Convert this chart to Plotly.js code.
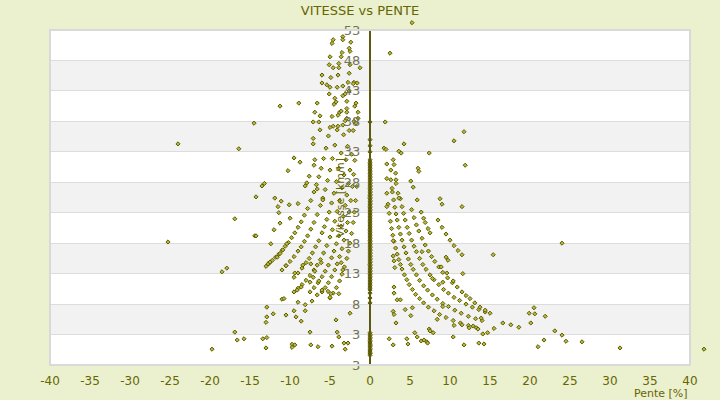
<!DOCTYPE html>
<html>
<head>
<meta charset="utf-8">
<script src="https://cdn.plot.ly/plotly-3.0.1.min.js"></script>
<style>html,body{margin:0;padding:0;background:#ebf0cf;}#chart{width:720px;height:400px;}</style>
</head>
<body>
<div id="chart"></div>
<script>
// ---- Data: slope [%] and speed [km/h] ----
// downhill bands
const downA_x = [-13,-12.6,-12.2,-11.8,-11.4,-11,-10.6,-10.2,-9.8,-9.4,-9,-8.6,-8.2,-7.8,-7.4,-7,-6.7,-6.4,-6.1,-5.8,-5.5,-5.2,-5];
const downA_y = [14.2,14.7,15.2,15.7,16.2,16.8,17.5,18.1,18.9,19.7,20.6,21.5,22.6,23.7,25,26.4,27.6,28.9,30.3,31.9,33.6,35.6,37];
const downB_x = [-11,-10.5,-10,-9.5,-9,-8.6,-8.2,-7.8,-7.4,-7,-6.6,-6.2,-5.9,-5.6,-5.3,-5,-4.7,-4.4,-4.1,-3.8];
const downB_y = [13.6,14.3,15,15.8,16.7,17.4,18.3,19.2,20.3,21.4,22.7,24.2,25.4,26.8,28.3,30,31.9,34.1,36.6,39.5];
const downC_x = [-9.5,-9,-8.5,-8,-7.6,-7.2,-6.8,-6.4,-6,-5.7,-5.4,-5.1,-4.8,-4.5,-4.2,-3.9,-3.6,-3.3,-3.1];
const downC_y = [12.4,13.1,13.9,14.8,15.5,16.4,17.4,18.4,19.7,20.7,21.9,23.1,24.6,26.2,28.1,30.3,32.8,35.8,38.1];
const downD_x = [-9.5,-9,-8.5,-8,-7.5,-7,-6.6,-6.2,-5.8,-5.4,-5,-4.7,-4.4,-4.1,-3.8,-3.5,-3.25,-3,-2.8,-2.6];
const downD_y = [10,10.6,11.2,11.9,12.7,13.6,14.4,15.3,16.4,17.6,19,20.2,21.6,23.2,25,27.1,29.2,31.7,33.9,36.5];
const downE_x = [-7.5,-7,-6.5,-6,-5.6,-5.2,-4.8,-4.5,-4.2,-3.9,-3.6,-3.35,-3.1,-2.9,-2.7,-2.5,-2.3];
const downE_y = [10,10.7,11.5,12.5,13.4,14.4,15.6,16.7,17.9,19.2,20.8,22.4,24.2,25.9,27.8,30,32.6];
const downF_x = [-6,-5.6,-5.2,-4.8,-4.4,-4.1,-3.8,-3.5,-3.25,-3,-2.8,-2.6,-2.4,-2.2,-2.05,-1.9];
const downF_y = [10,10.7,11.5,12.5,13.6,14.6,15.8,17.1,18.5,20,21.4,23.1,25,27.3,29.3,31.6];
const downG_x = [-5,-4.6,-4.2,-3.8,-3.5,-3.2,-2.9,-2.7,-2.5,-2.3,-2.1,-1.95,-1.8,-1.65];
const downG_y = [9,9.8,10.7,11.8,12.9,14.1,15.5,16.7,18,19.6,21.4,23.1,25,27.3];
// uphill bands
const upA_x = [2.1,2.25,2.4,2.55,2.7,2.85,3,3.2,3.4,3.6,3.8,4,4.3,4.6,4.9,5.3,5.7,6.2,6.7,7.3,8,8.7,9.5,10.4,11.3,12.3,13.3];
const upA_y = [26.2,24.4,22.9,21.6,20.4,19.3,18.3,17.2,16.2,15.3,14.5,13.75,12.8,12,11.2,10.4,9.6,8.9,8.2,7.5,6.9,6.3,5.8,5.3,4.9,4.5,4.1];
const upB_x = [2.8,2.95,3.1,3.25,3.4,3.6,3.8,4,4.25,4.5,4.8,5.1,5.4,5.8,6.2,6.7,7.2,7.8,8.4,9.1,9.8,10.6,11.4,12.3,13.2,14];
const upB_y = [26.4,25.1,23.9,22.8,21.8,20.6,19.5,18.5,17.4,16.4,15.4,14.5,13.7,12.8,11.9,11,10.3,9.5,8.8,8.1,7.6,7,6.5,6,5.6,5.3];
const upC_x = [3.8,4,4.2,4.4,4.65,4.9,5.2,5.5,5.8,6.2,6.6,7,7.5,8,8.6,9.2,9.8,10.5,11.2,12,12.8,13.6,14.4];
const upC_y = [25.3,24,22.9,21.8,20.6,19.6,18.5,17.5,16.6,15.5,14.5,13.7,12.8,12,11.2,10.4,9.8,9.1,8.6,8,7.5,7.1,6.7];
const upD_x = [5.2,5.5,5.8,6.1,6.5,6.9,7.3,7.7,8.1,8.6,9.1,9.7,10.3,10.9,11.5,12,12.5,13.1,13.75,14.4,15];
const upD_y = [23.5,22.2,21,20,18.8,17.7,16.7,15.8,15,14.1,13.2,12.3,11.5,10.8,10,9.4,8.9,8.2,7.5,7,6.5];
const upE_x = [5.9,6.4,6.7,6.9,7.25,7.5,8.5,9,9.5,10,10.5,11,11.5];
const upE_y = [25.1,23.1,22.1,21.4,20.4,19.7,21.8,20.6,19.5,18.5,17.6,16.8,16.1];
// flat (0 %) readings
const flatSpeed = [-0.4,-0.1,0,0.3,0.5,0.7,1,1.2,1.4,1.6,1.8,2,2.3,2.5,2.8,3,3.3,8.2,9,9.8,10.3,10.5,10.8,11,11.3,11.5,11.8,12,12.3,12.5,12.8,13,13.3,13.5,13.8,14,14.3,14.5,14.8,15,15.3,15.5,15.8,16,16.3,16.5,16.8,17,17.3,17.5,17.8,18,18.3,18.5,18.8,19,19.3,19.5,19.8,20,20.3,20.5,20.8,21,21.3,21.5,21.8,22,22.3,22.5,22.8,23,23.3,23.5,23.8,24,24.3,24.5,24.8,25,25.3,25.5,25.8,26,26.3,26.5,26.8,27,27.3,27.5,27.8,28,28.3,28.5,28.8,29,29.3,29.5,29.8,30,30.3,30.5,30.8,31,31.3,31.7,33,34,35,37.9];
// isolated downhill points
const looseDown_x = [-19.75,-16.6,-15.75,-16.9,-13.4,-12.9,-13,-9.75,-9.4,-9.75,-7.4,-6.5,-4.75,-7.5,-4.1,-3.9,-3.25,-2.75,-3.1,
 -25.25,-14.4,-18.5,-17.9,-12.4,-10.4,-10.9,-12.75,-12.5,-10.5,-9.4,-8.4,-7.4,-6.9,-6.1,-6.6,-7.25,-9,-11,-10.75,-12.9,-12.1,-12.9,-13,-10.5,-9.5,-9.25,-8.6,-8.1,-8.1,-4.25,-2.5,-3.9,-3.4,-3.6,-5.25,-4.9,-5,-6,-6.4,-7.5,-7.1,-9.1,-8.6,-11.6,-11.25,
 -24,-16.4,-14.5,-11.25,-8.9,-6.6,-4.5,-16.9,-14.25,-14.25,-13.5,-13.2,-10.25,-9.5,-8.75,-6.9,-7.6,-7,-11.9,-11.1,-11.5,-11.4,-10.1,-9,-10,-12,-11.25,-8.1,-7.9,-6.6,-5.9,-7.1,-7.1,-6.25,-7.1,-6.4,-6.25,-4.75,-4.6,-3.4,
 -6,-5.4,-5,-4.1,-3.4,-2.75,-2,-1.6,-5.1,-6,-4.9,-4,-2.6,-5.1,-4.6,-3.9,-3.9,-2.5,-1.25,-5,-3.6,-3.5,-2.5,-4.6,-4.75,-3.4,-3.4,-2.4,-2.6,-4.4,-4.25,-3.4,-2.9,-1.5,-2.6,-2.1,-1.9,-1.75,-3.1,-2.9,-2.9,-3.6,-6.9,-4,-2.9,-2,-1.5,-1.75,-4,-2.1];
const looseDown_y = [0.6,2.1,2.3,3.4,2.3,2.5,0.8,1.4,1.3,0.9,1.3,1,1.1,3.4,3.4,2.6,1.6,1.6,0.6,
 18.2,19.2,13.3,13.9,17.9,17.9,16.9,14.6,14.9,14.3,13.1,14.4,14.6,13.4,14.8,9.5,8.5,8.3,8.8,8.9,7.5,6.4,5.9,5,6.2,6.9,5.9,5.2,7.9,6.9,5.4,6.5,9.7,13.6,14.8,10.1,9.7,9.1,10.3,11.8,11.6,12.4,10.3,10.8,15.7,16.3,
 34.3,33.5,37.7,40.5,41,41,40.8,22,19.2,25.6,27.4,27.8,29.9,32,31.3,31.7,29,30.8,25.4,24.9,24,23,24.3,24.5,22.1,20.2,21.3,27.4,27.9,26.9,25.1,34.3,35.2,36.6,37.9,37.9,38.9,38.8,37.2,37.4,
 44.3,44,43.6,43.6,43.8,44.4,44.4,44.3,42.5,45.6,45.2,45.6,45.9,47.3,46.8,46.8,47.5,47.3,46.8,48.6,48.6,49.3,49.5,51.4,50.8,51.9,51.4,51,50,41.8,41.2,42.2,41.3,39.5,43,44.2,40.5,41,42.5,40.1,39.5,39.7,39.5,39,38.5,38,38.5,37.7,37.2,36.5];
// isolated uphill points
const looseUp_x = [1.9,1.75,2,4.25,3.6,3.9,7.4,11.75,10.5,11.9,2.9,3,2.1,2.6,3.2,2.1,2.6,3.25,3.25,5.1,5.4,6,6.1,2.75,3.5,3.6,8.75,9,11.5,2.1,24,2.5,
 2.9,2.9,3,3.1,3,3,3.4,2.9,3,3.25,2.4,2.9,4.6,4.75,5.6,5.9,6.4,6.75,7.1,7.2,7.4,7.9,10.4,11.75,11.5,12.4,13.5,13.6,14.25,14.1,13.9,15.5,16.6,17.6,18.6,20.1,19.9,20.5,20.6,21.9,21.75,21,23.1,24,24.5,26.5,31.25,15.4,11.6,10.4,9.1,9.6,8.9,9.75,9.5,6.5,3.8,4.4,5.1,5.3,7.5,9.1,8.4,10.5,12.9,14.7,7.8];
const looseUp_y = [37.9,33.6,33.4,34.3,33.1,32.8,32.8,36.3,34.8,30.8,31.7,30.9,31,30,29.5,28.6,28.4,28.4,27.8,28.2,27.2,30.3,29.8,27,26.2,25.4,25.3,24.4,24,24,18,49.2,
 18.4,15.9,15.1,14,10.8,9.8,8.7,6.8,6.3,4.9,2.3,1.3,2.3,1.45,3.3,2.6,1.95,2.1,1.8,1.6,3.9,3.3,2.6,1.3,4.6,4.1,3.9,1.6,1.45,3.1,5.7,4,4.9,4.6,4.2,4.9,6.5,7.4,6.4,6,2.1,1,3.6,2.9,1.9,1.8,0.8,16.1,13,11.8,11.6,13.1,14.1,15.2,15.7,16.6,8.7,7.1,6.1,7.4,3.6,7.6,5.5,4.5,4.4,3.3,12.2];
// points lying beyond the axis range
const outside_x = [41.75, 5.25];
const outside_y = [0.6, 54.2];
// axis labels
const xTicks = [-40,-35,-30,-25,-20,-15,-10,-5,0,5,10,15,20,25,30,35,40];
const yTickVals = [-2,3,8,13,18,23,28,33,38,43,48,53];
const yTickText = ["3","3","8","13","18","23","28","33","38","43","48","53"];

// ---- Geometry: main plot area 640x335 inside a slightly larger paper ----
const W = 720, H = 400, ML = 50, MR = 10, MT = 15, MB = 35;
const pw = W - ML - MR, ph = H - MT - MB;
const dx = 640 / pw, dy = 335 / ph;       // main-axis domain fractions
const xr = [xTicks[0], xTicks[xTicks.length-1]];
const yr = [yTickVals[0], yTickVals[yTickVals.length-1]];

const xs = [].concat(downA_x,downB_x,downC_x,downD_x,downE_x,downF_x,downG_x,
  upA_x,upB_x,upC_x,upD_x,upE_x, flatSpeed.map(() => 0), looseDown_x, looseUp_x);
const ys = [].concat(downA_y,downB_y,downC_y,downD_y,downE_y,downF_y,downG_y,
  upA_y,upB_y,upC_y,upD_y,upE_y, flatSpeed, looseDown_y, looseUp_y);

const olive = '#666600';
const mk = {symbol:'diamond', size:3.2, color:'#b8b840', line:{color:'#5c5c00', width:1}};
const shapes = [];
shapes.push({type:'rect', xref:'paper', yref:'paper', x0:0, x1:dx, y0:0, y1:dy,
  fillcolor:'#ffffff', line:{width:0}, layer:'below'});
for (let i = 0; i + 1 < yTickVals.length; i++) {
  if (i % 2 === 1) {
    shapes.push({type:'rect', xref:'paper', yref:'y', x0:0, x1:dx, y0:yTickVals[i], y1:yTickVals[i+1],
      fillcolor:'#f2f2f2', line:{width:0}, layer:'below'});
  }
}
shapes.push({type:'rect', xref:'paper', yref:'paper', x0:0, x1:dx, y0:0, y1:dy,
  line:{color:'#d9d9d9', width:2}, fillcolor:'rgba(0,0,0,0)', layer:'above'});

const traces = [
  {type:'scatter', mode:'markers', x:xs, y:ys, cliponaxis:false, hoverinfo:'skip', marker:mk},
  {type:'scatter', mode:'markers', x:outside_x, y:outside_y, xaxis:'x2', yaxis:'y2', cliponaxis:false, hoverinfo:'skip', marker:mk}
];

const layout = {
  width:W, height:H,
  margin:{l:ML, r:MR, t:MT, b:MB},
  paper_bgcolor:'#ebf0cf', plot_bgcolor:'rgba(0,0,0,0)',
  showlegend:false,
  font:{family:'DejaVu Sans, sans-serif', color:olive},
  title:{text:'VITESSE vs PENTE', font:{size:13, color:olive}, x:0.5, xref:'container', xanchor:'center', y:0.975, yref:'container', yanchor:'middle'},
  xaxis:{domain:[0,dx], range:xr, tickvals:xTicks, ticktext:xTicks.map(String), showgrid:false, zeroline:false, showline:false,
    ticks:'outside', ticklen:5, tickcolor:'rgba(0,0,0,0)', tickfont:{size:12, color:olive}, fixedrange:true},
  yaxis:{domain:[0,dy], range:yr, tickvals:yTickVals, ticktext:yTickText, anchor:'free', position:0.5*dx, side:'left',
    showgrid:true, gridcolor:'#dcdcdc', gridwidth:1, zeroline:false, showline:true, linecolor:'#5a5a10', linewidth:2,
    ticks:'outside', ticklen:6, tickcolor:'rgba(0,0,0,0)', tickfont:{size:13, color:'#727258'}, fixedrange:true},
  xaxis2:{domain:[0,1], range:[xr[0], xr[0] + (xr[1]-xr[0])/dx], anchor:'y2', visible:false, fixedrange:true},
  yaxis2:{domain:[0,1], range:[yr[0], yr[0] + (yr[1]-yr[0])/dy], anchor:'x2', visible:false, fixedrange:true},
  shapes:shapes,
  annotations:[
    {text:'Vitesse [km/h]', textangle:-90, xref:'paper', yref:'paper', x:(340-ML)/pw, y:(H-MB-197.5)/ph, xanchor:'center', yanchor:'middle',
      showarrow:false, font:{size:11, color:olive}},
    {text:'Pente [%]', xref:'paper', yref:'paper', x:dx, y:(H-MB-394)/ph, xanchor:'right', yanchor:'middle',
      showarrow:false, font:{size:11, color:olive}}
  ]
};

Plotly.newPlot('chart', traces, layout, {staticPlot:true, displayModeBar:false});
</script>
</body>
</html>
